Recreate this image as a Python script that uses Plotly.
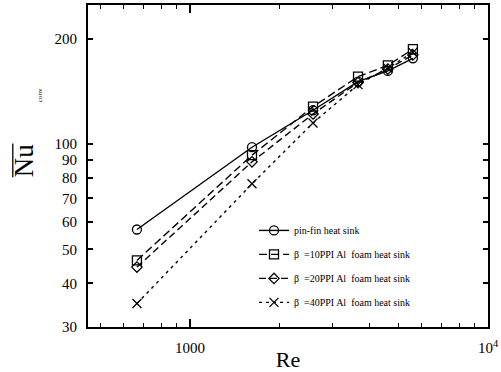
import plotly.graph_objects as go

re_vals = [664, 1615, 2588, 3664, 4613, 5598]
nu_pinfin = [57, 98, 125, 151, 162, 176]
nu_10ppi = [46.5, 93, 128, 156, 168, 187]
nu_20ppi = [44.5, 89, 122, 150, 164, 180]
nu_40ppi = [35, 77, 115, 148, 165, 183]

names = ["pin-fin heat sink",
         "\u03b2  =10PPI Al  foam heat sink",
         "\u03b2  =20PPI Al  foam heat sink",
         "\u03b2  =40PPI Al  foam heat sink"]
series = [nu_pinfin, nu_10ppi, nu_20ppi, nu_40ppi]
symbols = ["circle-open", "square-open", "diamond-open", "x-thin-open"]
dashes = ["solid", "8px,4px", "7px,4px", "3px,4px"]
sizes = [9, 9, 8, 9]

FONT = "Liberation Serif"
fig = go.Figure()
for i, (nm, ys) in enumerate(zip(names, series)):
    fig.add_trace(go.Scatter(
        x=re_vals, y=ys, name=nm, mode="lines+markers",
        legendgroup=f"g{i}",
        line=dict(color="black", width=1.4, dash=dashes[i]),
        marker=dict(symbol=symbols[i], size=sizes[i], color="black",
                    line=dict(color="black", width=1.3)),
    ))

xminor = [500, 600, 700, 800, 900, 2000, 3000, 4000, 5000, 6000, 7000, 8000, 9000]
fig.update_layout(
    width=501, height=372,
    margin=dict(l=88, r=13, t=5, b=45),
    paper_bgcolor="white", plot_bgcolor="white",
    font=dict(family=FONT, color="black", size=15),
    showlegend=True,
    legend=dict(x=0.415, y=0.345, xanchor="left", yanchor="top",
                bgcolor="rgba(0,0,0,0)", borderwidth=0,
                font=dict(size=10, family=FONT), tracegroupgap=5,
                itemwidth=30),
    xaxis=dict(type="log", range=[2.658, 4.0], automargin=False,
               tickvals=[1000, 10000], ticktext=["1000", "10<sup>4</sup>"],
               ticks="inside", ticklen=8, tickwidth=1.5, tickcolor="black",
               minor=dict(tickvals=xminor, ticks="inside", ticklen=4,
                          tickwidth=1.2, tickcolor="black", showgrid=False),
               showline=True, linecolor="black", linewidth=2, mirror="ticks",
               showgrid=False, zeroline=False, ticklabelstandoff=6,
               title=dict(text="Re", font=dict(size=22, family=FONT), standoff=0)),
    yaxis=dict(type="log", range=[1.477, 2.398], automargin=False,
               tickvals=[30, 40, 50, 60, 70, 80, 90, 100, 200],
               ticks="inside", ticklen=5, tickwidth=1.5, tickcolor="black",
               showline=True, linecolor="black", linewidth=2, mirror="ticks",
               showgrid=False, zeroline=False, ticklabelstandoff=6),
)
# y-axis title: Nu with overbar and small subscript
fig.add_annotation(
    xref="paper", yref="paper", x=-0.16, y=0.515, xanchor="center", yanchor="middle",
    textangle=-90, showarrow=False, text="Nu",
    font=dict(size=27, family=FONT, color="black"),
)
fig.add_annotation(
    xref="paper", yref="paper", x=-0.12, y=0.72, xanchor="center", yanchor="middle",
    textangle=-90, showarrow=False, text="conv",
    font=dict(size=7, family=FONT, color="black"),
)
fig.add_shape(type="line", xref="paper", yref="paper",
              x0=-0.188, x1=-0.188, y0=0.465, y1=0.57,
              line=dict(color="black", width=1.3))
fig.write_html("out.html")
